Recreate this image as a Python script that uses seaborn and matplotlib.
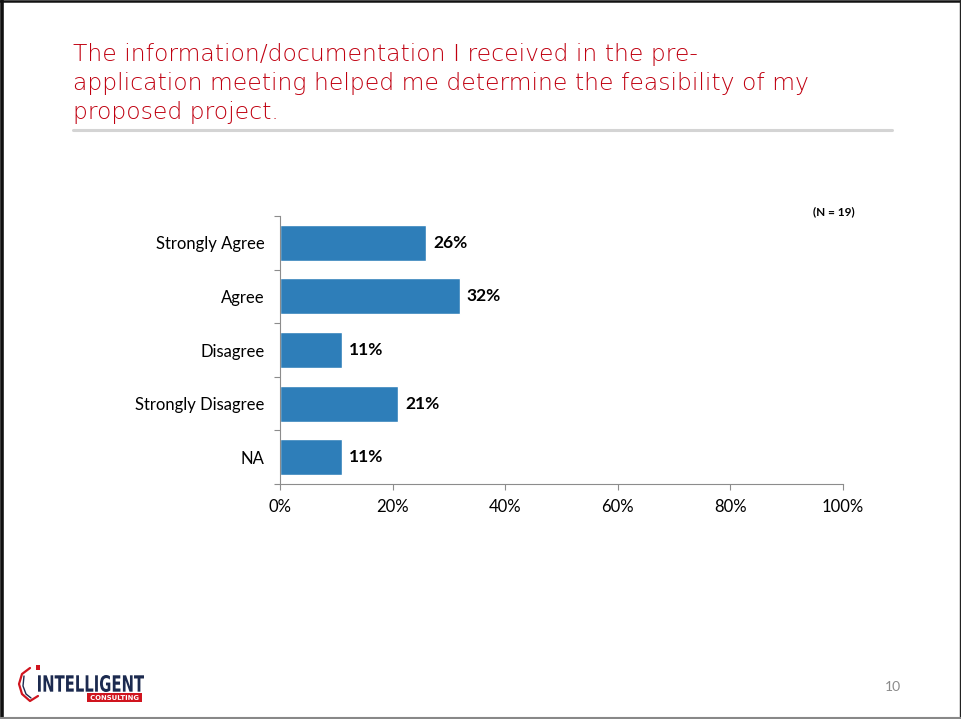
import matplotlib
matplotlib.use("Agg")
import matplotlib.pyplot as plt
from matplotlib.patches import Rectangle, PathPatch
from matplotlib.textpath import TextPath
from matplotlib.font_manager import FontProperties
from matplotlib.transforms import Affine2D
from matplotlib.ticker import FixedLocator, PercentFormatter
import seaborn as sns
import pandas as pd

categories = ["Strongly Agree", "Agree", "Disagree", "Strongly Disagree", "NA"]
percents = [26, 32, 11, 21, 11]
x_ticks = [0, 20, 40, 60, 80, 100]
title = ("The information/documentation I received in the pre-\n"
         "application meeting helped me determine the feasibility of my\n"
         "proposed project.")

df = pd.DataFrame({"response": categories, "pct": percents})

sns.set_theme(style="white")
plt.rcParams["font.family"] = ["Lato", "DejaVu Sans"]

W, H = 961, 719
fig = plt.figure(figsize=(W / 100, H / 100), dpi=100)
ax = fig.add_axes([280 / W, 1 - 484 / H, 563 / W, 268 / H])

sns.barplot(data=df, x="pct", y="response", order=categories, color="#2E7EB9",
            saturation=1, width=0.67, orient="h", ax=ax)

ax.set_xlim(0, 100)
ax.set_ylim(len(categories) - 0.5, -0.5)
ax.set_xlabel("")
ax.set_ylabel("")
ax.xaxis.set_major_locator(FixedLocator(x_ticks))
ax.xaxis.set_major_formatter(PercentFormatter(decimals=0))
ax.tick_params(axis="x", which="major", length=4, width=0.8, color="#8c8c8c",
               direction="out", labelsize=12, pad=7, labelcolor="#000000", bottom=True)
ax.tick_params(axis="y", which="major", length=0, labelsize=12, pad=11, labelcolor="#000000")
ax.yaxis.set_minor_locator(FixedLocator([i - 0.5 for i in range(len(categories) + 1)]))
ax.tick_params(axis="y", which="minor", length=4, width=0.8, color="#8c8c8c", left=True)

for side in ("top", "right"):
    ax.spines[side].set_visible(False)
for side in ("left", "bottom"):
    ax.spines[side].set_color("#8c8c8c")
    ax.spines[side].set_linewidth(0.8)

for i, v in enumerate(percents):
    ax.text(v + 1.2, i, f"{v}%", va="center", ha="left", fontsize=12.5,
            fontweight="bold", color="#000000")

# sample size note
fig.text(855 / W, 1 - 212 / H, "(N = 19)", ha="right", va="center",
         fontsize=8.5, fontweight="bold", color="#000000")

# slide title and rule beneath it
fig.text(73 / W, 1 - 43 / H, title, ha="left", va="top", fontsize=16.9,
         color="#C00010", family="DejaVu Sans", fontweight="light",
         linespacing=1.32)
fig.add_artist(plt.Line2D([73 / W, 892 / W], [1 - 130 / H, 1 - 130 / H],
                          color="#d4d4d4", linewidth=2.2, transform=fig.transFigure))

# page number
fig.text(893 / W, 1 - 687 / H, "10", ha="center", va="center",
         fontsize=10, color="#8a8a8a")

# company mark: condensed word, red band and shield outline (pixel coords)
to_pix = Affine2D().scale(1 / W, 1 / H) + fig.transFigure

word = TextPath((0, 0), "INTELLIGENT", size=10,
                prop=FontProperties(family="DejaVu Sans", weight="bold"))
wb = word.get_extents()
word_tf = Affine2D().translate(-wb.x0, -wb.y0) \
    .scale(106 / wb.width, 17 / wb.height).translate(38, H - 692)
fig.add_artist(PathPatch(word_tf.transform_path(word), facecolor="#1C2A4F",
                         edgecolor="none", transform=to_pix))

fig.add_artist(Rectangle((87, H - 702), 55, 9, transform=to_pix,
                         facecolor="#D0141E", edgecolor="none"))
sub = TextPath((0, 0), "CONSULTING", size=10,
               prop=FontProperties(family="DejaVu Sans", weight="bold"))
sb = sub.get_extents()
sub_tf = Affine2D().translate(-sb.x0, -sb.y0) \
    .scale(48 / sb.width, 5 / sb.height).translate(90.5, H - 700)
fig.add_artist(PathPatch(sub_tf.transform_path(sub), facecolor="white",
                         edgecolor="none", transform=to_pix))

shield_x = [30, 22, 19, 22, 30, 38]
shield_y = [H - 668, H - 674, H - 684, H - 694, H - 701, H - 696]
fig.add_artist(plt.Line2D(shield_x, shield_y, color="#D0141E", linewidth=1.6,
                          transform=to_pix))
fig.add_artist(plt.Line2D([24, 23, 26, 31], [H - 676, H - 686, H - 694, H - 698],
                          color="#1C2A4F", linewidth=1.0, transform=to_pix))
fig.add_artist(Rectangle((36, H - 670), 4, 5, transform=to_pix,
                         facecolor="#D0141E", edgecolor="none"))

# slide frame
fig.add_artist(plt.Line2D([1.5, 1.5], [0, H], color="#111111",
                          linewidth=2.6, transform=to_pix))
fig.add_artist(plt.Line2D([0, W], [H - 1, H - 1], color="#111111",
                          linewidth=1.8, transform=to_pix))
fig.add_artist(plt.Line2D([959.5, 959.5], [0, H], color="#222222",
                          linewidth=1.0, transform=to_pix))
fig.add_artist(plt.Line2D([0, W], [1.5, 1.5], color="#888888",
                          linewidth=1.5, transform=to_pix))

fig.savefig("out.png", dpi=100, facecolor="white")
